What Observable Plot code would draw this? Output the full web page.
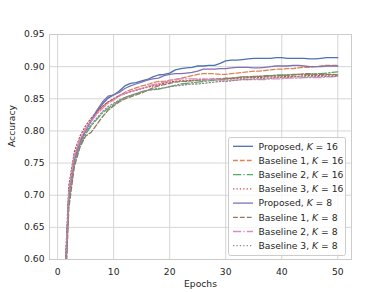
<!DOCTYPE html>
<html><head><meta charset="utf-8">
<script src="https://cdn.jsdelivr.net/npm/d3@7"></script>
<script src="https://cdn.jsdelivr.net/npm/@observablehq/plot@0.6"></script>
<style>body{margin:0;background:#fff}</style>
</head><body><div id="chart"></div>
<script>
const epochs = d3.range(1, 51);
const xTicks = [0, 10, 20, 30, 40, 50];
const yTicks = [0.60, 0.65, 0.70, 0.75, 0.80, 0.85, 0.90, 0.95];

const names = ["Proposed", "Baseline 1", "Baseline 2", "Baseline 3", "Proposed", "Baseline 1", "Baseline 2", "Baseline 3"];
const kValues = [16, 16, 16, 16, 8, 8, 8, 8];
const colors = ["#4C72B0", "#DD8452", "#55A868", "#C44E52", "#8172B3", "#937860", "#DA8BC3", "#8C8C8C"];
const dashes = ["none", "4.8,2.1", "8.3,2.1,1.3,2.1", "1.3,2.1", "none", "4.8,2.1", "8.3,2.1,1.3,2.1", "1.3,2.1"];

const proposed16 = [0.50,0.700,0.755,0.782,0.800,0.815,0.830,0.842,0.851,0.856,0.862,0.870,0.874,0.875,0.878,0.880,0.884,0.887,0.888,0.890,0.895,0.897,0.898,0.899,0.901,0.901,0.902,0.902,0.905,0.909,0.910,0.910,0.911,0.912,0.913,0.913,0.913,0.913,0.914,0.914,0.913,0.913,0.913,0.913,0.912,0.912,0.913,0.914,0.914,0.914];
const baseline1_16 = [0.49,0.700,0.760,0.785,0.803,0.816,0.828,0.838,0.845,0.849,0.855,0.860,0.864,0.867,0.870,0.872,0.875,0.877,0.877,0.879,0.880,0.882,0.884,0.886,0.888,0.889,0.889,0.889,0.888,0.888,0.889,0.890,0.891,0.892,0.893,0.893,0.894,0.895,0.896,0.896,0.897,0.897,0.898,0.899,0.899,0.900,0.901,0.902,0.902,0.902];
const baseline2_16 = [0.48,0.690,0.750,0.778,0.795,0.808,0.818,0.828,0.835,0.841,0.847,0.852,0.855,0.858,0.861,0.863,0.864,0.865,0.867,0.869,0.871,0.873,0.874,0.875,0.876,0.877,0.878,0.879,0.880,0.881,0.882,0.883,0.884,0.884,0.885,0.885,0.886,0.886,0.887,0.887,0.887,0.888,0.888,0.888,0.888,0.889,0.889,0.890,0.891,0.892];
const baseline3_16 = [0.52,0.715,0.768,0.792,0.808,0.820,0.830,0.838,0.845,0.850,0.855,0.858,0.861,0.863,0.866,0.868,0.870,0.872,0.874,0.876,0.877,0.878,0.878,0.879,0.879,0.880,0.880,0.880,0.880,0.881,0.881,0.882,0.882,0.883,0.883,0.883,0.884,0.884,0.884,0.884,0.885,0.885,0.885,0.886,0.886,0.886,0.886,0.887,0.887,0.887];
const proposed8 = [0.50,0.705,0.760,0.785,0.802,0.817,0.832,0.845,0.854,0.856,0.860,0.866,0.870,0.873,0.876,0.879,0.881,0.882,0.886,0.888,0.889,0.889,0.890,0.891,0.893,0.896,0.896,0.896,0.897,0.897,0.898,0.899,0.899,0.899,0.898,0.898,0.899,0.900,0.901,0.901,0.901,0.902,0.902,0.901,0.900,0.900,0.900,0.901,0.901,0.901];
const baseline1_8 = [0.47,0.680,0.745,0.775,0.792,0.798,0.810,0.822,0.832,0.839,0.845,0.850,0.853,0.856,0.859,0.863,0.867,0.870,0.872,0.874,0.876,0.877,0.877,0.878,0.879,0.879,0.880,0.881,0.881,0.882,0.882,0.883,0.884,0.884,0.884,0.885,0.885,0.886,0.886,0.886,0.887,0.887,0.888,0.889,0.889,0.888,0.888,0.888,0.888,0.887];
const baseline2_8 = [0.50,0.705,0.762,0.787,0.803,0.815,0.826,0.835,0.843,0.848,0.854,0.858,0.861,0.864,0.866,0.869,0.872,0.874,0.876,0.878,0.880,0.881,0.881,0.881,0.881,0.881,0.880,0.880,0.879,0.879,0.879,0.879,0.880,0.880,0.880,0.880,0.880,0.881,0.881,0.881,0.882,0.882,0.882,0.883,0.883,0.883,0.883,0.884,0.884,0.885];
const baseline3_8 = [0.49,0.695,0.752,0.780,0.798,0.810,0.820,0.830,0.838,0.843,0.848,0.852,0.855,0.858,0.861,0.863,0.865,0.866,0.867,0.869,0.870,0.871,0.872,0.873,0.873,0.874,0.875,0.876,0.877,0.877,0.878,0.879,0.880,0.880,0.881,0.881,0.882,0.882,0.883,0.883,0.883,0.884,0.884,0.884,0.884,0.885,0.885,0.885,0.885,0.885];

const seriesValues = [proposed16, baseline1_16, baseline2_16, baseline3_16, proposed8, baseline1_8, baseline2_8, baseline3_8];

const lineMarks = seriesValues.map((vals, i) =>
  Plot.line(epochs.map((e, j) => ({epoch: e, acc: vals[j]})), {
    x: "epoch", y: "acc", stroke: colors[i], strokeWidth: 1.3,
    strokeDasharray: dashes[i] === "none" ? undefined : dashes[i], clip: true
  })
);

const plot = Plot.plot({
  width: 390, height: 292,
  marginLeft: 49, marginRight: 39, marginTop: 34, marginBottom: 33,
  style: {fontFamily: "DejaVu Sans", fontSize: "9.2px", color: "#262626", background: "#fff"},
  x: {domain: [-1.45, 52.45]},
  y: {domain: [0.60, 0.95]},
  marks: [
    Plot.gridX(xTicks, {stroke: "#d6d6d6", strokeOpacity: 1, strokeWidth: 1}),
    Plot.gridY(yTicks, {stroke: "#d6d6d6", strokeOpacity: 1, strokeWidth: 1}),
    Plot.frame({stroke: "#cccccc", strokeWidth: 1}),
    Plot.axisX(xTicks, {tickSize: 0, tickPadding: 9, label: null}),
    Plot.axisY(yTicks, {tickSize: 0, tickPadding: 5, tickFormat: d3.format(".2f"), label: null}),
    ...lineMarks,
    Plot.text(["Epochs"], {frameAnchor: "bottom", dy: 25, lineAnchor: "middle", fill: "#262626", fontSize: 9.2}),
    Plot.text(["Accuracy"], {frameAnchor: "left", dx: -37, rotate: -90, lineAnchor: "middle", fill: "#262626", fontSize: 9.2})
  ]
});
document.getElementById("chart").appendChild(plot);

// legend
const svg = d3.select(plot);
const lg = svg.append("g").attr("font-family", "DejaVu Sans").attr("font-size", 9.2)
  .attr("fill", "#262626").attr("text-anchor", "start");
lg.append("rect").attr("x", 228.5).attr("y", 137.5).attr("width", 117).attr("height", 118)
  .attr("rx", 2).attr("fill", "#fff").attr("fill-opacity", 0.8).attr("stroke", "#cccccc");
names.forEach((n, i) => {
  const y = 146.3 + i * 14.2;
  lg.append("line").attr("x1", 233).attr("x2", 253).attr("y1", y).attr("y2", y)
    .attr("stroke", colors[i]).attr("stroke-width", 1.3)
    .attr("stroke-dasharray", dashes[i] === "none" ? null : dashes[i]);
  const t = lg.append("text").attr("x", 258.5).attr("y", y).attr("dy", "0.35em").attr("text-anchor", "start");
  t.append("tspan").text(n + ", ");
  t.append("tspan").attr("font-style", "italic").text("K");
  t.append("tspan").text(" = " + kValues[i]);
});
</script></body></html>
